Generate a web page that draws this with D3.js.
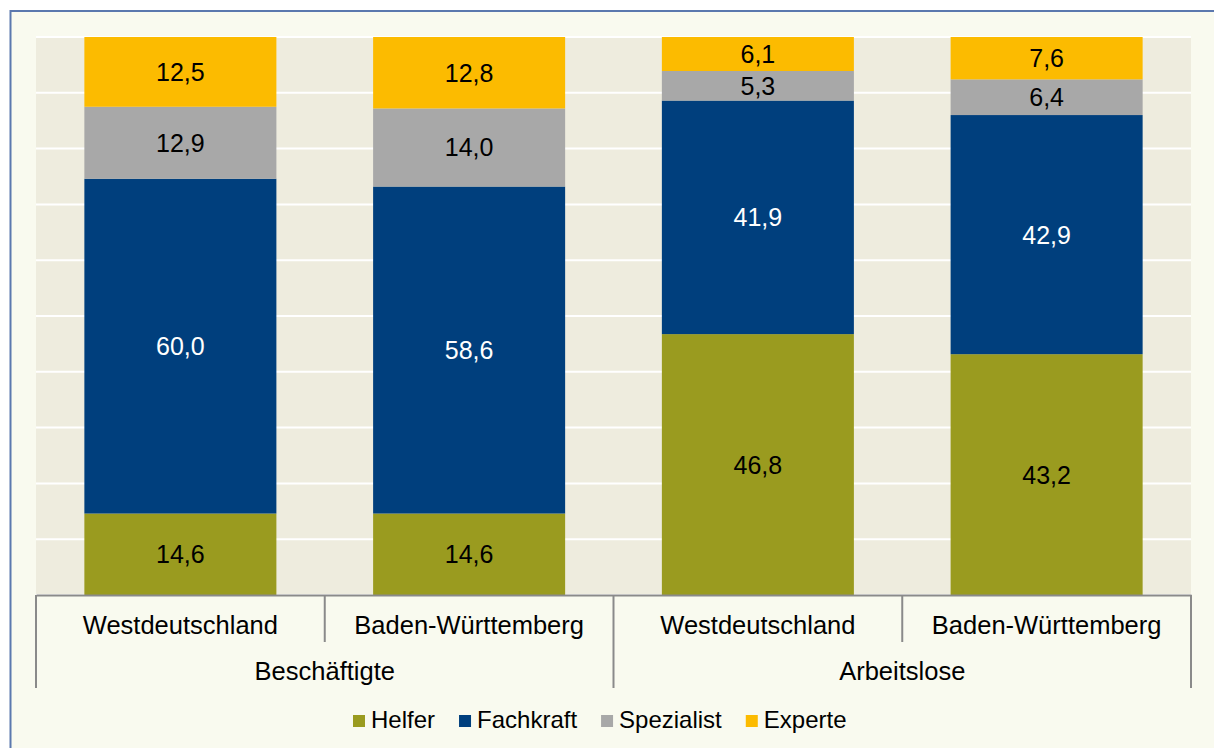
<!DOCTYPE html>
<html>
<head>
<meta charset="utf-8">
<script src="https://cdn.jsdelivr.net/npm/d3@7"></script>
<style>
  body { margin: 0; background: #fff; }
  svg { display: block; font-family: "Liberation Sans", Arial, sans-serif; }
</style>
</head>
<body>
<svg id="chart" width="1214" height="748"></svg>
<script>
// data
let groups = ['Beschäftigte', 'Beschäftigte', 'Arbeitslose', 'Arbeitslose'];
let regions = ['Westdeutschland', 'Baden-Württemberg', 'Westdeutschland', 'Baden-Württemberg'];
let series = ['Helfer', 'Fachkraft', 'Spezialist', 'Experte'];
let helfer = [14.6, 14.6, 46.8, 43.2];
let fachkraft = [60.0, 58.6, 41.9, 42.9];
let spezialist = [12.9, 14.0, 5.3, 6.4];
let experte = [12.5, 12.8, 6.1, 7.6];

let COLORS = {
  Helfer: '#9A9B1F',
  Fachkraft: '#003F7D',
  Spezialist: '#A8A8A8',
  Experte: '#FCBB00'
};
let LABEL_COLORS = { Helfer: '#000', Fachkraft: '#fff', Spezialist: '#000', Experte: '#000' };

let rows = regions.map((r, i) => ({
  key: 'c' + i,
  region: r,
  group: groups[i],
  Helfer: helfer[i],
  Fachkraft: fachkraft[i],
  Spezialist: spezialist[i],
  Experte: experte[i]
}));

let plot = { left: 36, right: 1191, top: 37, bottom: 595 };

let svg = d3.select('#chart');

// frame
svg.append('rect')
  .attr('x', 10.5).attr('y', 11)
  .attr('width', 1214).attr('height', 748)
  .attr('fill', '#F9FAEF')
  .attr('stroke', '#5B78AE')
  .attr('stroke-width', 2);

let x = d3.scaleBand()
  .domain(rows.map(d => d.key))
  .range([plot.left, plot.right])
  .paddingInner(0.335)
  .paddingOuter(0.1675);

let y = d3.scaleLinear()
  .domain([0, 1])
  .range([plot.bottom, plot.top]);

// plot background + gridlines
svg.append('rect')
  .attr('x', plot.left).attr('y', plot.top)
  .attr('width', plot.right - plot.left)
  .attr('height', plot.bottom - plot.top)
  .attr('fill', '#EEECDE');

svg.append('g')
  .selectAll('line')
  .data(y.ticks(10))
  .join('line')
    .attr('x1', plot.left).attr('x2', plot.right)
    .attr('y1', d => y(d)).attr('y2', d => y(d))
    .attr('stroke', '#fff')
    .attr('stroke-width', 2);

let stacked = d3.stack().keys(series).offset(d3.stackOffsetExpand)(rows);

let layer = svg.append('g').selectAll('g')
  .data(stacked)
  .join('g')
    .attr('fill', d => COLORS[d.key]);

layer.selectAll('rect')
  .data(d => d)
  .join('rect')
    .attr('x', d => x(d.data.key))
    .attr('y', d => y(d[1]))
    .attr('width', x.bandwidth())
    .attr('height', d => y(d[0]) - y(d[1]));

let labels = svg.append('g')
  .attr('text-anchor', 'middle')
  .style('font-size', '25px');

stacked.forEach(function (s) {
  labels.selectAll(null)
    .data(s)
    .join('text')
      .attr('x', d => x(d.data.key) + x.bandwidth() / 2)
      .attr('y', d => (y(d[0]) + y(d[1])) / 2)
      .attr('dy', '0.36em')
      .attr('fill', LABEL_COLORS[s.key])
      .text(d => d3.format('.1f')(d.data[s.key]).replace('.', ','));
});

// category axis
let half = x.step() * x.paddingInner() / 2;

let axis = svg.append('g')
  .attr('transform', 'translate(0,' + plot.bottom + ')')
  .call(d3.axisBottom(x).tickSize(0).tickPadding(0).tickFormat((k, i) => regions[i]));
axis.select('.domain').attr('stroke', '#8A8A8A').attr('stroke-width', 2);
axis.selectAll('.tick text')
  .attr('y', 39)
  .attr('dy', 0)
  .style('font-size', '25.5px')
  .style('font-family', '"Liberation Sans", Arial, sans-serif')
  .attr('fill', '#000');

let bounds = rows.map(d => x(d.key) - half).concat([plot.right]);
svg.append('g')
  .selectAll('line')
  .data(bounds)
  .join('line')
    .attr('x1', d => d).attr('x2', d => d)
    .attr('y1', plot.bottom)
    .attr('y2', (d, i) => i % 2 === 0 ? 688 : 642)
    .attr('stroke', '#8A8A8A')
    .attr('stroke-width', 2);

let groupNames = ['Beschäftigte', 'Arbeitslose'];
svg.append('g')
  .selectAll('text')
  .data(groupNames)
  .join('text')
    .attr('x', (d, i) => (bounds[i * 2] + bounds[i * 2 + 2]) / 2)
    .attr('y', 680)
    .attr('text-anchor', 'middle')
    .style('font-size', '25.5px')
    .text(d => d);

// legend
let legend = svg.append('g').attr('transform', 'translate(353,0)');
let lx = 0;
series.forEach(function (s) {
  let item = legend.append('g').attr('transform', 'translate(' + lx + ',0)');
  item.append('rect')
    .attr('x', 0).attr('y', 715)
    .attr('width', 12).attr('height', 12)
    .attr('fill', COLORS[s]);
  let t = item.append('text')
    .attr('x', 18).attr('y', 728)
    .style('font-size', '24px')
    .text(s);
  lx += 18 + t.node().getComputedTextLength() + 24;
});
</script>
</body>
</html>
